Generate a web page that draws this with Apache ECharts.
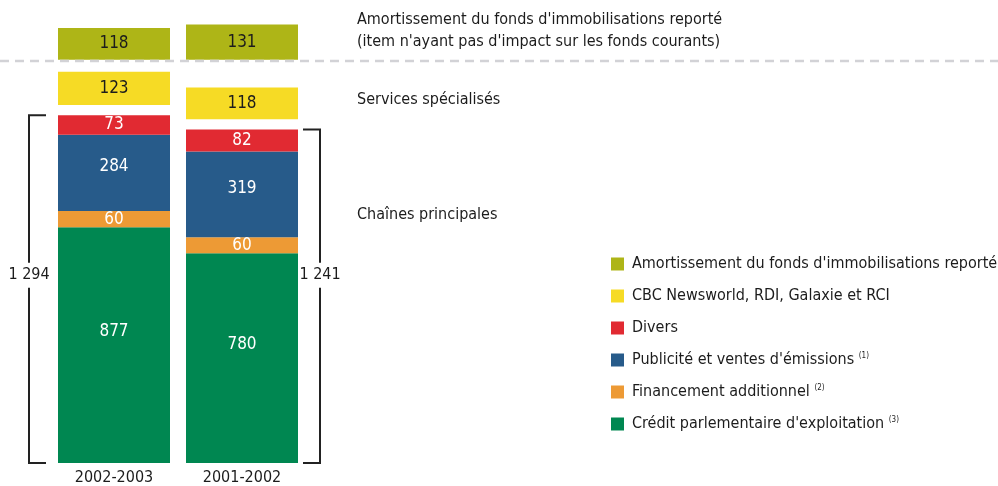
<!DOCTYPE html>
<html>
<head>
<meta charset="utf-8">
<script src="https://cdn.jsdelivr.net/npm/echarts@6/dist/echarts.min.js"></script>
<style>
html, body { margin: 0; padding: 0; background: #fff; }
#main { width: 998px; height: 486px; }
</style>
</head>
<body>
<div id="main"></div>
<script>
var categories = ['2002-2003', '2001-2002'];
var credit = [877, 780];
var financement = [60, 60];
var publicite = [284, 319];
var divers = [73, 82];
var newsworld = [123, 118];
var amortissement = [118, 131];

var names = {
    amort: "Amortissement du fonds d'immobilisations reporté",
    news: 'CBC Newsworld, RDI, Galaxie et RCI',
    divers: 'Divers',
    pub: "Publicité et ventes d'émissions",
    fin: 'Financement additionnel',
    credit: "Crédit parlementaire d'exploitation"
};
var notes = {};
notes[names.pub] = '(1)';
notes[names.fin] = '(2)';
notes[names.credit] = '(3)';

// totals of the main channels (bracket labels)
var totals = categories.map(function (c, i) {
    return credit[i] + financement[i] + publicite[i] + divers[i];
});
var GAP = 38;          // empty space between blocks, in value units
var LINE_LEVEL = 1500; // dashed line level
var spacer1 = categories.map(function () { return GAP; });
var spacer2 = categories.map(function (c, i) {
    return LINE_LEVEL - (totals[i] + GAP + newsworld[i]);
});

var FONT = "'Liberation Sans Narrow', 'DejaVu Sans Condensed', sans-serif";
var TXT = '#1c1c1c';
var FS = 16;

function fmt(n) {
    return String(n).replace(/\B(?=(\d{3})+(?!\d))/g, ' ');
}

function barSeries(name, data, color, labelColor, dy) {
    return {
        name: name,
        type: 'bar',
        stack: 'all',
        barWidth: 112,
        data: data,
        itemStyle: { color: color },
        label: {
            show: true,
            position: 'inside',
            offset: [0, dy || 0],
            color: labelColor,
            fontFamily: FONT,
            fontSize: 17
        }
    };
}
function spacer(data) {
    return {
        type: 'bar',
        stack: 'all',
        barWidth: 112,
        data: data,
        itemStyle: { color: 'transparent' },
        silent: true,
        label: { show: false }
    };
}

var dom = document.getElementById('main');
var myChart = echarts.init(dom);

var option = {
    animation: false,
    textStyle: { fontFamily: FONT },
    grid: { left: 50, width: 256, top: 6, bottom: 23 },
    xAxis: {
        type: 'category',
        data: categories,
        axisLine: { show: false },
        axisTick: { show: false },
        axisLabel: { color: TXT, fontSize: FS, fontFamily: FONT, margin: 7 }
    },
    yAxis: {
        type: 'value',
        min: 0,
        max: 1700,
        show: false
    },
    legend: {
        orient: 'vertical',
        left: 606,
        top: 251,
        itemWidth: 13,
        itemHeight: 13,
        itemGap: 16,
        icon: 'rect',
        data: [names.amort, names.news, names.divers, names.pub, names.fin, names.credit],
        formatter: function (n) {
            return notes[n] ? n + ' {s|' + notes[n] + '}' : n;
        },
        textStyle: {
            color: TXT,
            fontSize: FS,
            fontFamily: FONT,
            padding: [0, 0, 0, 3],
            rich: {
                s: { fontSize: 8, verticalAlign: 'top', color: TXT, fontFamily: FONT }
            }
        }
    },
    graphic: [
        {
            type: 'line', z: 100,
            shape: { x1: 0, y1: 61, x2: 998, y2: 61 },
            style: { stroke: '#d2d2d6', lineWidth: 2.5, lineDash: [9, 6] }
        },
        {
            type: 'text', left: 357, top: 9,
            style: { text: "Amortissement du fonds d'immobilisations reporté\n(item n'ayant pas d'impact sur les fonds courants)",
                fill: TXT, font: FS + 'px ' + FONT, lineHeight: 22 }
        },
        {
            type: 'text', left: 357, top: 92,
            style: { text: 'Services spécialisés', fill: TXT, font: FS + 'px ' + FONT }
        },
        {
            type: 'text', left: 357, top: 207,
            style: { text: 'Chaînes principales', fill: TXT, font: FS + 'px ' + FONT }
        }
    ],
    series: [
        barSeries(names.credit, credit, '#008751', '#fff', -14),
        barSeries(names.fin, financement, '#ED9A35', '#fff'),
        barSeries(names.pub, publicite, '#275B8A', '#fff', -6),
        barSeries(names.divers, divers, '#E12A32', '#fff'),
        spacer(spacer1),
        barSeries(names.news, newsworld, '#F6DB25', TXT),
        spacer(spacer2),
        barSeries(names.amort, amortissement, '#AEB517', TXT),
        {
            type: 'custom',
            silent: true,
            data: totals.map(function (t, i) { return [i, t]; }),
            renderItem: function (params, api) {
                var i = api.value(0);
                var top = api.coord([i, api.value(1)]);
                var bot = api.coord([i, 0]);
                var mid = api.coord([i, 700]);
                var left = i === 0;
                var x = left ? top[0] - 85 : top[0] + 78;
                var tx = left ? x + 17 : x - 17;
                var st = { stroke: '#222', lineWidth: 2, fill: null };
                return {
                    type: 'group',
                    children: [
                        { type: 'polyline', shape: { points: [[tx, top[1]], [x, top[1]], [x, mid[1] - 12]] }, style: st },
                        { type: 'polyline', shape: { points: [[x, mid[1] + 13], [x, bot[1]], [tx, bot[1]]] }, style: st },
                        { type: 'text', x: x, y: mid[1],
                          style: { text: fmt(api.value(1)), fill: TXT, font: FS + 'px ' + FONT,
                                   align: 'center', verticalAlign: 'middle' } }
                    ]
                };
            }
        }
    ]
};

if (option && typeof option === 'object') {
    myChart.setOption(option, true);
}
</script>
</body>
</html>
